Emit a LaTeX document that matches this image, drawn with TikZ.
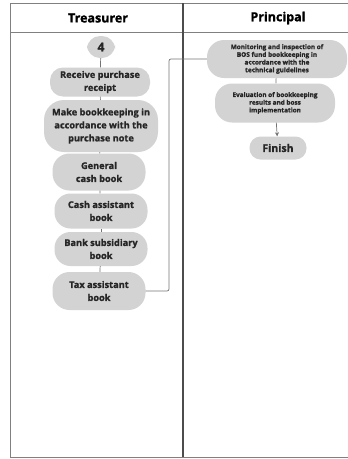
\documentclass[tikz,border=0pt]{standalone}
\usepackage{fontspec}
\setmainfont[BoldFeatures={FakeBold=1.3}]{Open Sans}
\usepackage{tikz}
\usetikzlibrary{arrows.meta}

\definecolor{pillgray}{HTML}{D3D3D3}
\tikzset{
  pill/.style={fill=pillgray, rounded corners=13pt, align=center, inner sep=1pt,
    font=\bfseries\fontsize{9.2}{13}\selectfont, text=black!85},
  smallpill/.style={pill, rounded corners=17pt, font=\bfseries\fontsize{6.4}{7.7}\selectfont},
  link/.style={draw=black!55, line width=0.7pt}
}

\begin{document}
\begin{tikzpicture}[x=1pt,y=-1pt]
\useasboundingbox (0,0) rectangle (348,459);
\clip (0,0) rectangle (348,459);
% lanes
\draw[black!50, line width=0.9pt] (10,3) rectangle (355,457);
\draw[black!50, line width=0.9pt] (10,32) -- (355,32);
\draw[black!70, line width=1.2pt] (183,3) -- (183,457);
\node (tre) at (98,18) {\bfseries\fontsize{12.5}{14}\selectfont Treasurer};
\node (pri) at (278,18) {\bfseries\fontsize{12.5}{14}\selectfont Principal};
% treasurer column
\node[pill, minimum width=28pt, minimum height=22pt, font=\bfseries\fontsize{12}{14}\selectfont] (four) at (101,47) {4};
\node[pill, minimum width=100pt, minimum height=29pt] (receive) at (100,82) {Receive purchase\\receipt};
\node[pill, minimum width=114pt, minimum height=52pt, rounded corners=20pt] (make) at (101,126) {Make bookkeeping in\\accordance with the\\purchase note};
\node[pill, minimum width=93pt, minimum height=37pt, rounded corners=17pt] (general) at (99,172) {General\\cash book};
\node[pill, minimum width=93pt, minimum height=35pt, rounded corners=16pt] (cash) at (101,211) {Cash assistant\\book};
\node[pill, minimum width=93pt, minimum height=34pt, rounded corners=16pt] (bank) at (101,249) {Bank subsidiary\\book};
\node[pill, minimum width=93pt, minimum height=38pt, rounded corners=17pt] (tax) at (99,291) {Tax assistant\\book};
% principal column
\node[smallpill, minimum width=140pt, minimum height=38pt] (monitor) at (277,59) {Monitoring and inspection of\\BOS fund bookkeeping in\\accordance with the\\technical guidelines};
\node[smallpill, minimum width=120pt, minimum height=39pt] (evaluate) at (275,103) {Evaluation of bookkeeping\\results and boss\\implementation};
\node[pill, minimum width=57pt, minimum height=23pt, rounded corners=11pt, font=\bfseries\fontsize{10.5}{12}\selectfont] (finish) at (278,148) {Finish};
% connectors
\draw[link] (four) -- (receive);
\draw[link] (receive) -- (make);
\draw[link] (make) -- (general);
\draw[link] (general) -- (cash);
\draw[link] (cash) -- (bank);
\draw[link] (bank) -- (tax);
\draw[link, rounded corners=2pt] (tax.east) -- (169,291) |- (monitor.west);
\draw[link] (monitor) -- (evaluate);
\draw[link, -{Stealth[length=4pt,width=4pt]}] (evaluate) -- (finish);
\end{tikzpicture}
\end{document}
